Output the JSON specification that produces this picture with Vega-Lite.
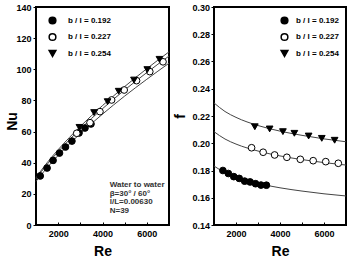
{
  "$schema": "https://vega.github.io/schema/vega-lite/v6.json",
  "background": "white",
  "padding": {"left": 4, "top": 2, "right": 0, "bottom": 2},
  "spacing": 0,
  "config": {
    "font": "Liberation Sans",
    "view": {"stroke": "black", "strokeWidth": 2},
    "axis": {
      "domain": false,
      "grid": false,
      "tickColor": "black",
      "tickWidth": 1,
      "labelFont": "Liberation Sans",
      "labelFontSize": 9,
      "labelFontWeight": "bold",
      "labelColor": "black",
      "titleFont": "Liberation Sans",
      "titleFontSize": 14,
      "titleFontWeight": "bold",
      "titleColor": "black"
    },
    "legend": {
      "labelFont": "Liberation Sans",
      "labelFontSize": 8,
      "labelFontWeight": "bold",
      "labelColor": "black",
      "symbolSize": 45,
      "padding": 0,
      "rowPadding": 3.5
    }
  },
  "datasets": {
    "nuPts": [
      {"series": "b / l = 0.192", "Re": 1190, "Nu": 31.5},
      {"series": "b / l = 0.192", "Re": 1500, "Nu": 36.6},
      {"series": "b / l = 0.192", "Re": 1770, "Nu": 41.5},
      {"series": "b / l = 0.192", "Re": 2060, "Nu": 46.2},
      {"series": "b / l = 0.192", "Re": 2330, "Nu": 50.1},
      {"series": "b / l = 0.192", "Re": 2620, "Nu": 53.9},
      {"series": "b / l = 0.192", "Re": 2940, "Nu": 59.1},
      {"series": "b / l = 0.192", "Re": 3210, "Nu": 62.3},
      {"series": "b / l = 0.192", "Re": 3480, "Nu": 64.9},
      {"series": "b / l = 0.227", "Re": 2838, "Nu": 58.9},
      {"series": "b / l = 0.227", "Re": 3436, "Nu": 65.7},
      {"series": "b / l = 0.227", "Re": 3885, "Nu": 72.8},
      {"series": "b / l = 0.227", "Re": 4411, "Nu": 80.3},
      {"series": "b / l = 0.227", "Re": 4978, "Nu": 86.7},
      {"series": "b / l = 0.227", "Re": 5535, "Nu": 92.7},
      {"series": "b / l = 0.227", "Re": 6133, "Nu": 98.5},
      {"series": "b / l = 0.227", "Re": 6730, "Nu": 104.8},
      {"series": "b / l = 0.254", "Re": 2960, "Nu": 62.7},
      {"series": "b / l = 0.254", "Re": 3620, "Nu": 72.2},
      {"series": "b / l = 0.254", "Re": 4230, "Nu": 79.2},
      {"series": "b / l = 0.254", "Re": 4730, "Nu": 85.9},
      {"series": "b / l = 0.254", "Re": 5420, "Nu": 93.1},
      {"series": "b / l = 0.254", "Re": 6020, "Nu": 99.8},
      {"series": "b / l = 0.254", "Re": 6570, "Nu": 106.4}
    ],
    "nuFit": [
      {"series": "b / l = 0.192", "Re": 1000, "Nu": 28.0},
      {"series": "b / l = 0.192", "Re": 1500, "Nu": 36.8},
      {"series": "b / l = 0.192", "Re": 2000, "Nu": 44.7},
      {"series": "b / l = 0.192", "Re": 3000, "Nu": 58.7},
      {"series": "b / l = 0.192", "Re": 4000, "Nu": 71.2},
      {"series": "b / l = 0.192", "Re": 5000, "Nu": 82.8},
      {"series": "b / l = 0.192", "Re": 6000, "Nu": 93.6},
      {"series": "b / l = 0.192", "Re": 7000, "Nu": 103.9},
      {"series": "b / l = 0.227", "Re": 1000, "Nu": 29.7},
      {"series": "b / l = 0.227", "Re": 1500, "Nu": 38.9},
      {"series": "b / l = 0.227", "Re": 2000, "Nu": 47.1},
      {"series": "b / l = 0.227", "Re": 3000, "Nu": 61.7},
      {"series": "b / l = 0.227", "Re": 4000, "Nu": 74.7},
      {"series": "b / l = 0.227", "Re": 5000, "Nu": 86.7},
      {"series": "b / l = 0.227", "Re": 6000, "Nu": 97.9},
      {"series": "b / l = 0.227", "Re": 7000, "Nu": 108.5},
      {"series": "b / l = 0.254", "Re": 1000, "Nu": 30.5},
      {"series": "b / l = 0.254", "Re": 1500, "Nu": 40.0},
      {"series": "b / l = 0.254", "Re": 2000, "Nu": 48.4},
      {"series": "b / l = 0.254", "Re": 3000, "Nu": 63.3},
      {"series": "b / l = 0.254", "Re": 4000, "Nu": 76.7},
      {"series": "b / l = 0.254", "Re": 5000, "Nu": 88.9},
      {"series": "b / l = 0.254", "Re": 6000, "Nu": 100.4},
      {"series": "b / l = 0.254", "Re": 7000, "Nu": 111.2}
    ],
    "notes": [
      {"Re": 4325, "Nu": 25.7, "label": "Water to water"},
      {"Re": 4325, "Nu": 19.9, "label": "β=30° / 60°"},
      {"Re": 4325, "Nu": 14.6, "label": "l/L=0.00630"},
      {"Re": 4325, "Nu": 9.2, "label": "N=39"}
    ],
    "fPts": [
      {"series": "b / l = 0.192", "Re": 1404, "f": 0.1800},
      {"series": "b / l = 0.192", "Re": 1652, "f": 0.1778},
      {"series": "b / l = 0.192", "Re": 1899, "f": 0.1755},
      {"series": "b / l = 0.192", "Re": 2146, "f": 0.1742},
      {"series": "b / l = 0.192", "Re": 2393, "f": 0.1722},
      {"series": "b / l = 0.192", "Re": 2640, "f": 0.1716},
      {"series": "b / l = 0.192", "Re": 2888, "f": 0.1703},
      {"series": "b / l = 0.192", "Re": 3135, "f": 0.1693},
      {"series": "b / l = 0.192", "Re": 3382, "f": 0.1692},
      {"series": "b / l = 0.227", "Re": 2708, "f": 0.1967},
      {"series": "b / l = 0.227", "Re": 3234, "f": 0.1934},
      {"series": "b / l = 0.227", "Re": 3755, "f": 0.1914},
      {"series": "b / l = 0.227", "Re": 4312, "f": 0.1897},
      {"series": "b / l = 0.227", "Re": 4924, "f": 0.1882},
      {"series": "b / l = 0.227", "Re": 5508, "f": 0.1872},
      {"series": "b / l = 0.227", "Re": 6079, "f": 0.1865},
      {"series": "b / l = 0.227", "Re": 6650, "f": 0.1853},
      {"series": "b / l = 0.254", "Re": 2856, "f": 0.2121},
      {"series": "b / l = 0.254", "Re": 3530, "f": 0.2105},
      {"series": "b / l = 0.254", "Re": 4133, "f": 0.2085},
      {"series": "b / l = 0.254", "Re": 4654, "f": 0.2073},
      {"series": "b / l = 0.254", "Re": 5301, "f": 0.2053},
      {"series": "b / l = 0.254", "Re": 5899, "f": 0.2036},
      {"series": "b / l = 0.254", "Re": 6483, "f": 0.2022}
    ],
    "fFit": [
      {"series": "b / l = 0.192", "Re": 1000, "f": 0.1833},
      {"series": "b / l = 0.192", "Re": 1500, "f": 0.1784},
      {"series": "b / l = 0.192", "Re": 2000, "f": 0.1751},
      {"series": "b / l = 0.192", "Re": 3000, "f": 0.1705},
      {"series": "b / l = 0.192", "Re": 4000, "f": 0.1673},
      {"series": "b / l = 0.192", "Re": 5000, "f": 0.1649},
      {"series": "b / l = 0.192", "Re": 6000, "f": 0.1629},
      {"series": "b / l = 0.192", "Re": 7000, "f": 0.1613},
      {"series": "b / l = 0.227", "Re": 1000, "f": 0.2085},
      {"series": "b / l = 0.227", "Re": 1500, "f": 0.2031},
      {"series": "b / l = 0.227", "Re": 2000, "f": 0.1994},
      {"series": "b / l = 0.227", "Re": 3000, "f": 0.1943},
      {"series": "b / l = 0.227", "Re": 4000, "f": 0.1907},
      {"series": "b / l = 0.227", "Re": 5000, "f": 0.1880},
      {"series": "b / l = 0.227", "Re": 6000, "f": 0.1858},
      {"series": "b / l = 0.227", "Re": 7000, "f": 0.1840},
      {"series": "b / l = 0.254", "Re": 1000, "f": 0.2296},
      {"series": "b / l = 0.254", "Re": 1500, "f": 0.2233},
      {"series": "b / l = 0.254", "Re": 2000, "f": 0.2190},
      {"series": "b / l = 0.254", "Re": 3000, "f": 0.2130},
      {"series": "b / l = 0.254", "Re": 4000, "f": 0.2089},
      {"series": "b / l = 0.254", "Re": 5000, "f": 0.2058},
      {"series": "b / l = 0.254", "Re": 6000, "f": 0.2032},
      {"series": "b / l = 0.254", "Re": 7000, "f": 0.2011}
    ]
  },
  "resolve": {
    "scale": {"x": "independent", "y": "independent", "shape": "independent", "fill": "independent"},
    "legend": {"shape": "independent", "fill": "independent"}
  },
  "hconcat": [
    {
      "width": 133,
      "height": 218,
      "encoding": {
        "x": {
          "field": "Re", "type": "quantitative",
          "scale": {"domain": [1000, 7000], "nice": false},
          "axis": {
            "title": "Re",
            "values": [2000, 3000, 4000, 5000, 6000],
            "format": "d",
            "labelExpr": "datum.value % 2000 === 0 ? datum.label : ''",
            "tickSize": -3,
            "labelPadding": 7,
            "titlePadding": 6
          }
        },
        "y": {
          "field": "Nu", "type": "quantitative",
          "scale": {"domain": [0, 140], "nice": false},
          "axis": {
            "title": "Nu",
            "values": [0, 20, 40, 60, 80, 100, 120, 140],
            "tickSize": 3,
            "labelPadding": 2,
            "titlePadding": -4,
            "titleY": 114
          }
        }
      },
      "layer": [
        {
          "data": {"name": "nuFit"},
          "mark": {"type": "line", "color": "#444444", "strokeWidth": 1, "interpolate": "monotone"},
          "encoding": {"detail": {"field": "series", "type": "nominal"}}
        },
        {
          "data": {"name": "nuPts"},
          "mark": {"type": "point", "filled": true, "stroke": "black", "strokeWidth": 1, "size": 45, "opacity": 1},
          "encoding": {
            "shape": {
              "field": "series", "type": "nominal",
              "scale": {"domain": ["b / l = 0.192", "b / l = 0.227", "b / l = 0.254"], "range": ["circle", "circle", "triangle-down"]},
              "legend": {
                "title": null, "orient": "none", "legendX": 12, "legendY": 9, "labelOffset": 11,
                "encode": {"symbols": {"update": {"stroke": {"value": "black"}, "strokeWidth": {"value": 1}, "opacity": {"value": 1}}}}
              }
            },
            "fill": {
              "field": "series", "type": "nominal",
              "scale": {"domain": ["b / l = 0.192", "b / l = 0.227", "b / l = 0.254"], "range": ["black", "white", "black"]},
              "legend": {
                "title": null, "orient": "none", "legendX": 12, "legendY": 9, "labelOffset": 11,
                "encode": {"symbols": {"update": {"stroke": {"value": "black"}, "strokeWidth": {"value": 1}, "opacity": {"value": 1}}}}
              }
            }
          }
        },
        {
          "data": {"name": "notes"},
          "mark": {"type": "text", "align": "left", "baseline": "middle", "fontSize": 8, "fontWeight": "bold", "color": "#333333", "font": "Liberation Sans"},
          "encoding": {"text": {"field": "label", "type": "nominal"}}
        }
      ]
    },
    {
      "width": 132,
      "height": 218,
      "encoding": {
        "x": {
          "field": "Re", "type": "quantitative",
          "scale": {"domain": [1000, 7000], "nice": false},
          "axis": {
            "title": "Re",
            "values": [2000, 3000, 4000, 5000, 6000],
            "format": "d",
            "labelExpr": "datum.value % 2000 === 0 ? datum.label : ''",
            "tickSize": -3,
            "labelPadding": 7,
            "titlePadding": 6
          }
        },
        "y": {
          "field": "f", "type": "quantitative",
          "scale": {"domain": [0.14, 0.30], "nice": false},
          "axis": {
            "title": "f",
            "values": [0.14, 0.16, 0.18, 0.2, 0.22, 0.24, 0.26, 0.28, 0.30],
            "format": ".2f",
            "tickSize": 3,
            "labelPadding": 1.5,
            "titlePadding": 4
          }
        }
      },
      "layer": [
        {
          "data": {"name": "fFit"},
          "mark": {"type": "line", "color": "#444444", "strokeWidth": 1, "interpolate": "monotone"},
          "encoding": {"detail": {"field": "series", "type": "nominal"}}
        },
        {
          "data": {"name": "fPts"},
          "mark": {"type": "point", "filled": true, "stroke": "black", "strokeWidth": 1, "size": 45, "opacity": 1},
          "encoding": {
            "shape": {
              "field": "series", "type": "nominal",
              "scale": {"domain": ["b / l = 0.192", "b / l = 0.227", "b / l = 0.254"], "range": ["circle", "circle", "triangle-down"]},
              "legend": {
                "title": null, "orient": "none", "legendX": 66, "legendY": 9, "labelOffset": 7,
                "encode": {"symbols": {"update": {"stroke": {"value": "black"}, "strokeWidth": {"value": 1}, "opacity": {"value": 1}}}}
              }
            },
            "fill": {
              "field": "series", "type": "nominal",
              "scale": {"domain": ["b / l = 0.192", "b / l = 0.227", "b / l = 0.254"], "range": ["black", "white", "black"]},
              "legend": {
                "title": null, "orient": "none", "legendX": 66, "legendY": 9, "labelOffset": 7,
                "encode": {"symbols": {"update": {"stroke": {"value": "black"}, "strokeWidth": {"value": 1}, "opacity": {"value": 1}}}}
              }
            }
          }
        }
      ]
    }
  ]
}
